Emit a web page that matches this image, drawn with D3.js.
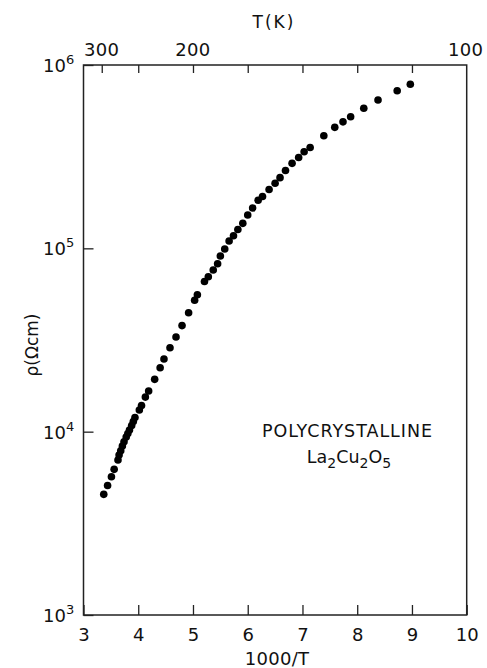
<!DOCTYPE html>
<html><head><meta charset="utf-8">
<script src="https://cdn.jsdelivr.net/npm/d3@7"></script>
<style>
body{margin:0;background:#fff;}
svg{display:block;}
text{font-family:"DejaVu Sans",sans-serif;fill:#111;}
</style></head>
<body>
<svg id="c" width="487" height="668"></svg>
<script>
// 1000/T values (x) and resistivity in ohm·cm (y)
const invT = [3.37,3.44,3.51,3.56,3.63,3.65,3.68,3.71,3.74,3.78,3.81,3.84,3.88,3.91,3.94,
  4.02,4.06,4.13,4.19,4.30,4.40,4.47,4.58,4.69,4.80,4.92,5.03,5.08,5.21,5.28,5.37,5.45,5.50,
  5.58,5.66,5.74,5.82,5.91,6.00,6.09,6.19,6.27,6.39,6.50,6.59,6.69,6.81,6.93,7.03,7.14,
  7.39,7.59,7.74,7.88,8.12,8.38,8.73,8.97];
const rho = [4550,5090,5680,6230,7000,7450,7870,8340,8810,9340,9770,10200,10800,11350,11940,
  13120,13870,15440,16650,19290,22320,24890,28700,32820,37900,44500,52100,55800,65900,70000,76200,82400,90800,
  99100,109600,117200,126700,136900,152000,165900,182800,191700,209400,226300,242900,265700,290800,312900,336100,354800,
  411400,457100,489800,522400,580700,644200,724100,785100];
const xTicks = [3,4,5,6,7,8,9,10];
const yTicks = [1e3,1e4,1e5,1e6];
const yExp = ["3","4","5","6"];
const topTickT = [300,250,200,166.67,142.86,125,111.11];
const topLabelT = [300,200,100];
const xTitle = "1000/T";
const yTitle = "ρ(Ωcm)";
const topTitle = "T(K)";
const note1 = "POLYCRYSTALLINE";

const svg = d3.select("#c");
const L=83.5, R=466.7, T=65, B=615;
const x = d3.scaleLinear().domain([3,10]).range([L,R]);
const y = d3.scaleLog().domain([1e3,1e6]).range([B,T]);

// frame
svg.append("rect").attr("x",L).attr("y",T).attr("width",R-L).attr("height",B-T)
  .attr("fill","none").attr("stroke","#222").attr("stroke-width",1.5);

// bottom axis
const gb = svg.append("g").attr("transform",`translate(0,${B})`)
  .call(d3.axisBottom(x).tickValues(xTicks).tickSize(-10).tickPadding(13).tickFormat(d3.format("d")));
gb.select(".domain").remove();
gb.selectAll("line").attr("stroke","#222").attr("stroke-width",1.3);
gb.selectAll("text").attr("font-size",18).attr("fill","#111");

// top axis (temperature)
const gt = svg.append("g").attr("transform",`translate(0,${T})`)
  .call(d3.axisTop(x).tickValues(topTickT.map(t=>1000/t)).tickSize(-8).tickFormat(""));
gt.select(".domain").remove();
gt.selectAll("line").attr("stroke","#222").attr("stroke-width",1.3);
svg.append("g").selectAll("text").data(topLabelT).join("text")
  .attr("x",(d,i)=>x(1000/d)+(i===2?-1:0)).attr("y",56).attr("text-anchor","middle")
  .attr("font-size",18).attr("letter-spacing",0.3).text(d=>d);

// left axis
const gl = svg.append("g").attr("transform",`translate(${L},0)`)
  .call(d3.axisLeft(y).tickValues(yTicks).tickSize(-10).tickFormat(""));
gl.select(".domain").remove();
gl.selectAll("line").attr("stroke","#222").attr("stroke-width",1.3);
const ylab = svg.append("g").selectAll("text").data(yTicks).join("text")
  .attr("x",43).attr("y",d=>y(d)+7).attr("font-size",18);
ylab.append("tspan").text("10");
ylab.append("tspan").attr("font-size",13).attr("dy",-8).text((d,i)=>yExp[i]);

// titles
svg.append("text").attr("x",277).attr("y",665).attr("text-anchor","middle")
  .attr("font-size",18).attr("letter-spacing",0.3).text(xTitle);
svg.append("text").attr("x",274).attr("y",28).attr("text-anchor","middle")
  .attr("font-size",17).attr("letter-spacing",2).text(topTitle);
svg.append("text").attr("transform","translate(38,345) rotate(-90)").attr("text-anchor","middle")
  .attr("font-size",17).text(yTitle);

// annotation
svg.append("text").attr("x",347).attr("y",437).attr("text-anchor","middle")
  .attr("font-size",17.5).attr("textLength",170).text(note1);
const f = svg.append("text").attr("x",349).attr("y",463).attr("text-anchor","middle").attr("font-size",17.5);
[["La",0],["2",1],["Cu",0],["2",1],["O",0],["5",1]].forEach(([s,sub],i,arr)=>{
  const prevSub = i>0 ? arr[i-1][1] : 0;
  const dy = sub && !prevSub ? 5 : (!sub && prevSub ? -5 : 0);
  f.append("tspan").attr("dy",dy).attr("font-size",sub?14:17.5).text(s);
});

// data points
svg.append("g").selectAll("circle").data(invT).join("circle")
  .attr("cx",d=>x(d)).attr("cy",(d,i)=>y(rho[i])).attr("r",3.8).attr("fill","#000");
</script>
</body></html>
